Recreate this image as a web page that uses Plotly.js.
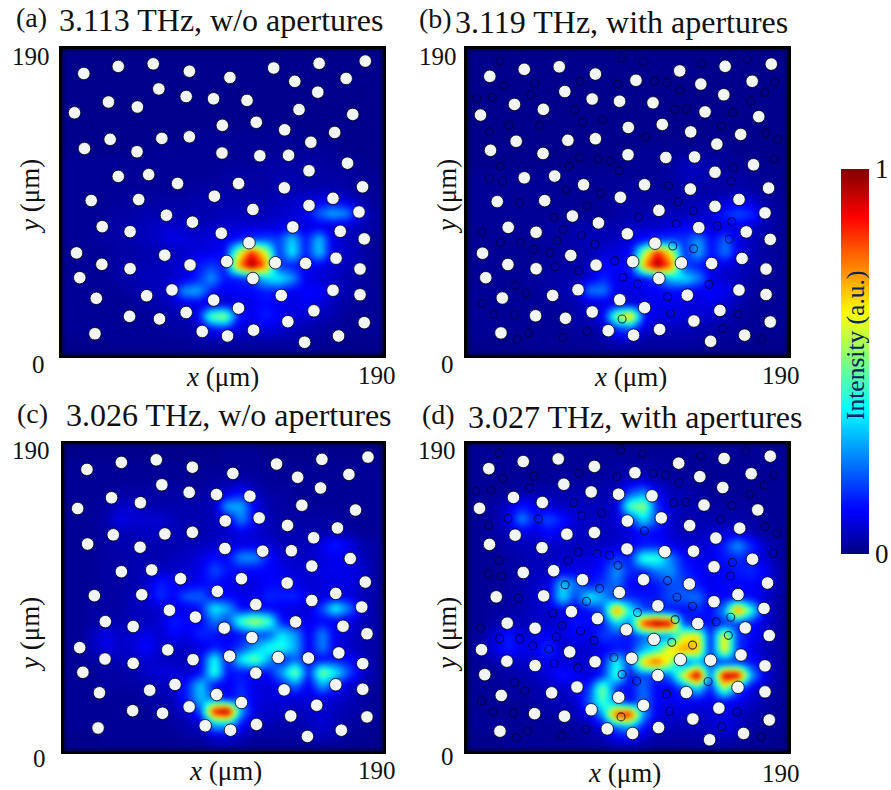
<!DOCTYPE html>
<html><head><meta charset="utf-8">
<script src="https://cdn.plot.ly/plotly-3.0.1.min.js"></script>
<style>html,body{margin:0;padding:0;background:#fff}#c{width:891px;height:790px}
.heatmaplayer image{filter:blur(2.5px)}</style>
</head><body><div id="c"></div>
<script>
const gridAxis=[0,8,16,24,32,40,48,56,64,72,80,88,96,104,112,120,128,136,144,152,160,168,176,184,192];
const holeX=[12.9,33.3,54.0,75.4,99.4,125.3,152.2,179.5,137.8,168.2,57.3,27.5,44.6,73.5,89.7,109.5,151.4,7.4,140.3,172.1,94.9,115.0,131.8,161.4,28.5,59.1,75.4,13.3,44.4,94.7,117.1,134.1,147.3,169.0,146.2,33.3,51.3,68.4,104.5,131.6,177.9,17.3,45.4,90.2,160.4,146.2,113.0,175.8,61.8,77.2,23.8,40.3,94.3,136.6,164.7,178.9,110.7,8.6,60.8,23.6,40.3,75.8,97.5,126.3,144.2,162.2,176.4,10.5,113.0,65.1,50.1,20.3,89.8,129.8,160.4,176.4,104.5,73.5,40.0,57.7,149.1,133.7,178.9,83.0,98.0,113.4,19.5,143.6,163.7];
const holeY=[174.8,179.2,180.8,176.2,172.3,178.2,181.1,182.5,169.9,171.7,165.2,157.1,154.0,160.5,159.1,158.1,163.2,150.4,152.4,149.4,142.6,144.5,139.8,138.2,133.9,134.5,135.5,128.2,126.2,125.4,123.7,124.0,132.1,119.1,114.4,110.9,112.0,106.5,106.5,103.8,104.4,95.9,96.5,98.6,97.3,92.9,90.4,88.8,86.8,82.5,79.7,76.6,75.6,79.5,76.8,72.1,69.7,63.4,62.0,56.3,53.6,55.9,58.1,57.3,56.9,60.1,53.4,48.0,47.5,40.4,36.8,35.2,34.1,37.0,40.2,37.4,29.1,26.4,24.0,22.4,27.4,20.7,20.1,14.6,11.8,15.4,13.2,7.9,11.8];
const apertureX=[18.9,91.0,103.7,138.2,165.3,21.2,39.4,66.3,88.7,110.3,117.7,125.5,181.6,175.8,5.2,14.4,37,167.4,63.1,122.4,129.4,156.7,24.3,42.3,67.8,79.7,150.1,12.8,105,176.4,183.4,181.2,65.9,77,84.4,59.8,19.1,89.4,157.1,12.7,20.4,155.9,118.7,58.1,78.5,30.4,70.7,124.3,133.5,50.9,100.9,123.2,147.5,156.1,8,56.3,67.2,19.3,31.2,52.8,75.2,154.7,39,48.5,121.2,133.5,86.9,51.6,65.7,91.8,100.4,28.2,142.7,34.3,118.1,8.6,15.4,27.5,91.2,119.9,159.8,150.8,70.5,36,29.2,56.3,174];
const apertureY=[184.4,186.2,183.8,182.6,185.4,168.8,170.4,171.8,169.9,171.8,170.8,166.2,171.0,164.6,161.0,161.6,163,159,153.8,153.8,154.2,152,144.1,143.9,145.8,147.4,143.5,139.8,136.5,139,134.9,122.7,123.5,122.5,121.5,118.1,118.1,115.3,117.1,110.1,108.7,108.7,105.9,103.3,101.1,95.1,93.1,95.7,90.1,85.8,86.3,81.9,80.5,83.3,76.6,78.2,74.7,70.1,69.9,71.2,69,72.2,65.8,63.6,67.9,66.2,58.6,54.9,52.2,48.2,44,43.2,43.8,38,36,31.8,25,24.6,22,25.4,25,16,14.3,13.1,9.2,10.2,9.6];

// intensity in percent, rows listed from the top of the panel (y = 192) to the bottom (y = 0)
const intensityA=[
[2,2,2,2,2,2,2,2,2,2,2,2,2,2,2,2,2,2,2,2,2,2,2,2,2],
[2,2,2,2,2,2,2,2,2,2,2,2,2,2,2,2,2,2,2,2,2,2,2,2,2],
[2,2,2,2,2,2,2,2,2,2,2,2,2,2,2,2,2,2,2,2,2,2,2,2,2],
[2,2,2,2,2,2,2,2,2,2,2,2,2,2,2,2,2,2,2,2,2,2,2,2,2],
[2,2,2,2,2,2,2,2,2,2,2,2,2,2,2,2,2,2,2,2,2,2,2,2,2],
[2,2,2,2,2,2,2,2,2,2,2,2,2,2,2,2,2,2,2,2,2,2,2,2,2],
[2,2,2,2,2,2,2,2,2,2,2,2,2,2,2,2,2,2,2,2,2,2,2,2,2],
[2,2,2,2,2,2,2,2,2,2,3,3,3,3,3,3,3,3,2,2,2,2,2,2,2],
[2,2,2,2,2,2,2,3,3,3,3,3,3,3,3,3,3,3,3,3,3,2,2,2,2],
[3,3,3,3,3,3,3,3,3,3,3,3,3,3,3,4,4,4,4,4,3,3,3,2,2],
[3,3,3,3,3,3,3,3,3,3,3,3,4,4,4,4,5,5,4,4,4,4,3,3,2],
[3,3,3,3,3,3,3,3,3,3,4,4,4,4,4,4,5,5,5,5,5,4,3,3,3],
[3,3,3,3,3,4,4,4,4,4,5,5,5,5,5,5,6,7,8,10,10,8,5,3,3],
[3,3,3,3,4,4,5,5,5,5,5,5,6,6,6,6,7,8,10,22,30,26,10,4,3],
[3,3,3,4,4,5,6,7,8,7,6,7,8,8,8,8,9,10,9,9,8,7,6,4,3],
[3,3,3,4,4,5,6,7,10,9,8,9,10,14,18,20,18,34,14,32,10,6,5,3,3],
[3,3,3,3,4,4,5,5,6,7,9,10,12,55,85,60,16,38,14,34,10,7,5,3,3],
[3,3,3,3,4,5,5,6,7,9,14,18,14,72,100,75,18,14,12,10,8,6,5,3,3],
[3,3,3,3,4,5,6,6,7,9,15,28,14,15,18,34,38,28,10,8,7,5,4,3,3],
[3,3,3,3,3,4,5,6,8,28,30,14,10,12,12,15,14,10,12,12,8,5,4,3,3],
[3,3,3,3,3,3,4,5,6,9,10,8,8,9,10,13,10,9,11,9,6,4,3,3,3],
[3,3,3,3,3,3,3,4,5,5,10,48,55,15,10,15,12,9,8,6,5,3,3,3,3],
[3,3,3,3,3,3,3,3,4,4,5,12,14,8,7,9,8,6,5,4,3,3,3,3,3],
[2,2,2,2,3,3,3,3,3,3,4,4,4,4,4,4,4,4,4,3,3,2,2,2,2],
[2,2,2,2,2,2,2,2,2,2,2,2,2,2,2,2,2,2,2,2,2,2,2,2,2]];
const intensityB=[
[2,2,2,2,2,2,2,2,2,2,2,2,2,2,2,2,2,2,2,2,2,2,2,2,2],
[2,2,2,2,2,2,2,2,2,2,2,2,2,2,2,2,2,2,2,2,2,2,2,2,2],
[2,2,2,2,2,2,2,2,2,2,2,2,2,2,2,2,2,2,2,2,2,2,2,2,2],
[2,2,2,2,2,2,2,2,2,2,2,2,2,2,2,2,2,2,2,2,2,2,2,2,2],
[2,2,2,2,2,2,2,2,2,2,2,2,2,2,2,2,2,2,2,2,2,2,2,2,2],
[2,2,2,2,2,2,2,2,2,2,2,2,2,2,2,2,2,2,2,2,2,2,2,2,2],
[2,2,2,2,2,2,2,2,2,2,2,2,2,2,2,2,2,2,2,2,2,2,2,2,2],
[2,2,2,2,2,2,2,2,2,2,2,2,2,2,2,2,2,2,2,2,2,2,2,2,2],
[2,2,2,2,2,2,2,2,2,2,2,2,2,3,3,3,3,3,3,3,2,2,2,2,2],
[2,2,2,2,2,2,2,2,2,2,2,2,3,3,3,4,6,6,4,3,3,3,2,2,2],
[3,3,3,3,3,3,3,3,3,3,3,3,3,3,3,4,6,6,5,4,4,3,3,2,2],
[3,3,3,3,3,3,3,3,3,3,3,3,4,4,4,4,4,4,4,4,5,4,3,3,2],
[3,3,3,3,3,3,3,3,3,3,3,4,4,4,4,4,5,6,6,8,10,8,4,3,3],
[3,3,3,3,3,3,3,3,3,3,3,4,5,5,6,6,6,7,8,16,20,16,7,3,3],
[3,3,3,3,3,3,4,4,5,5,5,5,7,7,7,9,12,10,8,9,9,7,5,3,3],
[3,3,3,3,3,3,4,4,5,6,6,7,9,14,18,20,17,28,12,23,10,6,4,3,3],
[3,3,3,3,3,3,3,4,4,5,8,9,12,55,85,60,16,30,13,25,9,6,4,3,3],
[3,3,3,3,3,3,4,4,4,7,12,12,14,72,100,75,18,14,10,9,7,5,4,3,3],
[3,3,3,3,3,4,4,5,5,9,16,10,12,14,18,34,36,26,10,7,6,4,3,3,3],
[3,3,3,3,3,3,4,5,7,25,25,9,9,10,12,14,13,10,12,11,7,4,3,3,3],
[3,3,3,3,3,3,3,4,5,8,9,8,8,10,10,10,9,9,10,8,5,3,3,3,3],
[3,3,3,3,3,3,3,3,5,6,12,55,70,14,9,10,9,8,7,5,4,3,3,3,3],
[3,3,3,3,3,3,3,3,4,4,6,18,22,8,6,6,6,5,5,4,3,3,3,3,3],
[2,2,2,2,3,3,3,3,3,3,4,6,6,4,4,4,4,4,3,3,3,2,2,2,2],
[2,2,2,2,2,2,2,2,2,2,2,2,2,2,2,2,2,2,2,2,2,2,2,2,2]];
const intensityC=[
[2,2,2,2,2,2,2,2,2,2,2,2,2,2,2,2,2,2,2,2,2,2,2,2,2],
[2,2,2,2,2,2,2,2,2,2,2,2,3,3,3,2,2,2,2,2,2,2,2,2,2],
[3,3,3,3,3,3,3,3,3,3,3,3,3,3,3,3,3,3,3,3,3,3,3,3,3],
[3,3,3,3,3,3,3,3,3,3,3,4,4,5,4,3,3,3,3,3,3,3,3,3,3],
[3,3,3,3,4,4,4,4,4,4,4,5,9,14,7,4,4,3,3,3,3,3,3,3,3],
[3,3,3,4,7,7,5,5,5,5,5,6,30,30,10,5,4,4,3,3,3,3,3,3,3],
[3,3,3,5,10,8,8,8,6,5,5,6,10,26,12,6,4,4,4,4,4,3,3,3,3],
[3,3,3,4,6,6,7,7,6,5,5,6,7,10,8,6,5,5,5,5,5,4,3,3,3],
[3,3,3,4,5,5,5,5,5,6,6,7,8,9,9,8,6,6,6,10,15,10,5,4,3],
[3,3,3,4,4,5,5,5,6,7,9,13,12,27,27,14,8,7,7,9,11,9,6,4,3],
[3,3,3,4,4,5,6,7,7,8,10,20,14,12,12,12,10,8,8,10,10,10,8,4,3],
[3,3,3,4,4,5,7,15,12,9,12,14,10,9,9,12,13,10,8,9,10,9,7,4,3],
[3,3,3,4,4,6,7,17,12,22,22,12,12,10,10,16,15,16,9,8,10,9,6,4,3],
[3,3,4,4,4,6,7,8,9,10,14,38,30,12,12,12,10,9,8,20,40,24,8,4,3],
[3,3,4,5,5,6,6,8,15,12,12,24,18,46,58,46,14,9,10,12,10,9,6,4,3],
[3,3,6,10,7,8,10,8,12,10,16,14,10,14,18,20,36,28,10,26,10,8,6,4,3],
[3,3,6,10,7,8,13,7,7,7,9,14,12,18,28,40,42,30,10,26,10,7,5,4,3],
[3,3,4,5,6,7,8,7,6,7,12,40,14,38,50,30,14,22,13,12,14,12,7,4,3],
[3,3,3,4,4,5,7,9,9,7,12,44,14,14,12,14,28,52,15,52,38,20,8,4,3],
[3,3,3,4,4,4,5,6,7,16,34,12,10,16,10,8,14,24,10,30,15,7,5,3,3],
[3,3,3,3,3,3,4,5,6,16,32,22,12,18,10,8,9,8,9,9,8,6,4,3,3],
[3,3,3,3,3,3,3,4,5,8,20,90,100,28,9,7,7,6,7,8,6,5,4,3,3],
[3,3,3,3,3,3,3,3,4,5,8,34,36,14,6,6,5,5,6,8,6,4,3,3,3],
[2,2,2,3,3,3,3,3,3,4,4,8,8,6,4,4,4,4,6,6,5,3,3,2,2],
[2,2,2,2,2,2,2,2,2,2,2,3,3,3,2,2,2,2,2,2,2,2,2,2,2]];
const intensityD=[
[3,3,3,3,3,3,3,3,3,3,3,3,3,3,3,3,3,3,3,3,3,3,3,3,3],
[3,3,3,3,3,3,3,3,3,3,3,3,3,3,3,3,3,3,3,3,3,3,3,3,3],
[3,3,3,3,3,3,3,3,3,3,3,4,4,4,4,3,3,3,3,3,3,3,3,3,3],
[3,3,3,3,3,3,3,4,4,4,4,5,7,8,5,4,4,3,3,3,3,3,3,3,3],
[3,3,3,3,5,5,5,5,5,5,5,6,20,28,12,6,5,4,3,3,3,3,3,3,3],
[3,3,4,8,14,10,8,7,7,6,6,8,46,54,18,7,5,5,4,4,4,3,3,3,3],
[3,3,4,10,26,14,20,14,8,7,6,8,16,36,20,8,5,5,5,5,5,4,3,3,3],
[3,3,4,6,9,9,12,10,7,6,6,7,8,14,12,8,6,6,7,8,8,5,4,3,3],
[3,3,3,5,6,6,7,7,6,7,7,8,10,14,14,10,8,8,9,16,28,16,7,4,3],
[3,3,3,4,5,6,6,7,8,9,12,18,15,44,44,26,14,10,10,14,16,14,8,4,3],
[3,3,3,4,5,6,7,10,10,10,14,28,16,15,24,28,16,12,10,12,14,16,12,5,3],
[3,3,3,4,5,7,9,34,24,14,18,24,12,12,14,20,20,14,10,12,12,12,10,5,3],
[3,3,3,4,5,7,10,36,18,38,30,16,16,14,14,20,22,24,12,12,14,12,8,4,3],
[3,3,4,4,5,7,8,10,10,14,20,78,40,20,18,14,12,16,12,28,80,42,10,4,3],
[3,3,4,6,6,7,7,9,14,12,14,34,25,85,100,92,20,12,14,16,18,14,8,4,3],
[3,4,9,15,9,9,12,8,12,10,18,16,14,22,24,26,60,66,14,66,18,12,8,4,3],
[3,4,9,15,10,11,18,7,7,8,10,14,14,30,40,66,74,70,14,66,18,10,6,4,3],
[3,3,5,6,7,8,10,9,8,8,14,40,18,68,82,56,22,30,20,16,18,14,8,4,3],
[3,3,3,4,5,6,9,14,12,8,16,44,14,20,16,24,60,100,22,95,95,30,10,4,3],
[3,3,3,4,4,5,6,7,9,18,52,15,12,24,12,10,20,36,14,54,22,9,6,3,3],
[3,3,3,3,3,4,5,6,7,22,46,24,12,24,12,10,12,10,10,12,10,7,5,3,3],
[3,3,3,3,3,3,4,4,6,10,28,84,90,28,10,8,8,7,8,10,7,5,4,3,3],
[3,3,3,3,3,3,3,3,4,5,9,22,28,14,6,6,5,6,7,9,7,4,3,3,3],
[2,2,2,3,3,3,3,3,3,4,4,8,9,6,4,4,4,4,5,5,4,3,3,2,2],
[2,2,2,2,2,2,2,2,2,2,3,3,3,3,2,2,2,2,2,2,2,2,2,2,2]];

const jet=[[0,'rgb(0,0,128)'],[0.11,'rgb(0,0,255)'],[0.125,'rgb(0,10,255)'],[0.375,'rgb(0,255,255)'],[0.625,'rgb(255,255,0)'],[0.875,'rgb(255,0,0)'],[1,'rgb(128,0,0)']];
const W=891,H=790;
const panels=[
 {z:intensityA,box:[62,383,49,355],xr:[0,190],yr:[0,190],ap:false},
 {z:intensityB,box:[467,788,49,355],xr:[-0.6,189.4],yr:[-0.7,192],ap:true},
 {z:intensityC,box:[64,383,444,751],xr:[-0.7,188.4],yr:[-1.2,190.7],ap:false},
 {z:intensityD,box:[467,788,444,751],xr:[0,190],yr:[1,190],ap:true}];
const serif='"Liberation Serif","Times New Roman",serif';
const data=[],layout={width:W,height:H,margin:{l:0,r:0,t:0,b:0},paper_bgcolor:'#fff',plot_bgcolor:'#000018',showlegend:false,annotations:[]};
panels.forEach((p,k)=>{
 const s=k?String(k+1):'';
 const xa='x'+s, ya='y'+s;
 const tr={type:'heatmap',x:gridAxis,y:gridAxis,z:p.z.slice().reverse(),zmin:1,zmax:100,zsmooth:'best',colorscale:jet,xaxis:xa,yaxis:ya,hoverinfo:'skip',showscale:k===0};
 if(k===0) tr.colorbar={x:841/W,xanchor:'left',xpad:0,ypad:0,y:1-361.5/H,yanchor:'middle',lenmode:'pixels',len:385,thicknessmode:'pixels',thickness:28,outlinewidth:0,tickvals:[1,100],ticktext:['0','1'],ticks:'',ticklen:0,tickfont:{family:serif,size:27,color:'#111'}};
 data.push(tr);
 if(p.ap) data.push({type:'scatter',mode:'markers',x:apertureX,y:apertureY,xaxis:xa,yaxis:ya,hoverinfo:'skip',marker:{symbol:'circle-open',size:8,color:'rgba(0,0,50,0.75)',line:{width:1.1,color:'rgba(0,0,50,0.75)'}}});
 data.push({type:'scatter',mode:'markers',x:holeX,y:holeY,xaxis:xa,yaxis:ya,hoverinfo:'skip',marker:{size:12.5,color:'#f2f6f2',line:{width:0.8,color:'#000018'}}});
 const ax={showgrid:false,zeroline:false,showticklabels:false,ticks:'',showline:true,mirror:true,linecolor:'#000',linewidth:3};
 layout['xaxis'+s]=Object.assign({},ax,{domain:[p.box[0]/W,p.box[1]/W],range:p.xr,anchor:ya});
 layout['yaxis'+s]=Object.assign({},ax,{domain:[1-p.box[3]/H,1-p.box[2]/H],range:p.yr,anchor:xa});
});
function note(text,x,y,size,opt){layout.annotations.push(Object.assign({xref:'paper',yref:'paper',x:x/W,y:1-y/H,text:text,showarrow:false,xanchor:'center',yanchor:'middle',font:{family:serif,size:size,color:'#111'}},opt||{}));}
const L={xanchor:'left'};
const ts=32,ls=28;
note('(a)',14,17,ls,L);note('3.113 THz, w/o apertures',57,20,ts,L);
note('(b)',417,18,ls,L);note('3.119 THz, with apertures',453,22,ts,L);
note('(c)',15,413,ls,L);note('3.026 THz, w/o apertures',64,415,ts,L);
note('(d)',420,414,ls,L);note('3.027 THz, with apertures',466,417,ts,L);
const xl='<i>x</i> (μm)',yl='<i>y</i> (μm)',sz=27,ns=25;
[[31,57,38,364,30,197,222,377,377,375],[438,57,447,364,447,197,630,377,781,375],[31,450,39,758,30,635,225,771,377,770],[437,450,447,756,447,635,624,773,781,773]].forEach(a=>{
 note('190',a[0],a[1],ns);note('0',a[2],a[3],ns);note(yl,a[4],a[5],sz,{textangle:-90});note(xl,a[6],a[7],sz);note('190',a[8],a[9],ns);
});
note('Intensity (a.u.)',855,346,25.5,{textangle:-90,font:{family:serif,size:25.5,color:'rgb(0,35,95)'}});
Plotly.newPlot('c',data,layout,{displayModeBar:false,staticPlot:true});
</script></body></html>
